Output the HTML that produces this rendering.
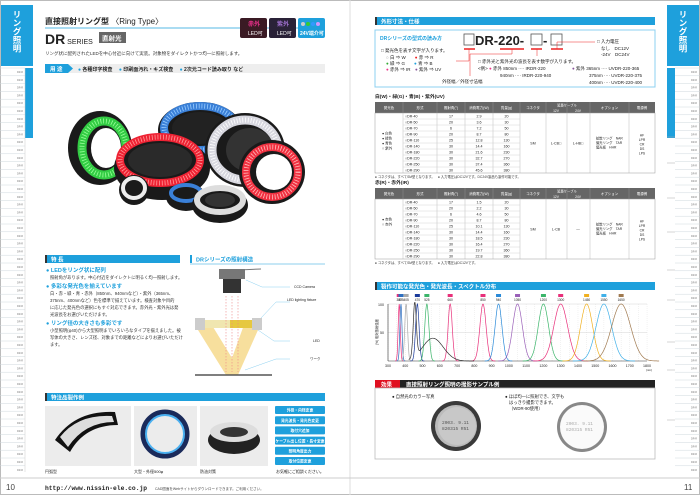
<!DOCTYPE html>
<html><head><meta charset="utf-8">
<style>
html,body{margin:0;padding:0;background:#fff;}
svg{display:block;font-family:"Liberation Sans","Noto Sans CJK JP",sans-serif;}
.vt{writing-mode:vertical-rl;}
</style></head>
<body>
<svg id="s" width="700" height="495" viewBox="0 0 700 495" xmlns="http://www.w3.org/2000/svg">
<rect width="700" height="495" fill="#fff"/>
<rect x="0.5" y="0.5" width="699" height="494" fill="none" stroke="#bbb"/>
<line x1="350" y1="0" x2="350" y2="495" stroke="#ddd"/>
<!-- left tab -->
<rect x="1" y="5" width="32" height="61" fill="#1ea0dc"/>
<text x="17" y="10" font-size="8.5" fill="#fff" font-weight="bold" class="vt">リング照明</text>
<rect x="25" y="68" width="8" height="70" fill="#1ea0dc"/>
<g id="lnav"></g>
<!-- right tab -->
<rect x="667" y="5" width="32" height="61" fill="#1ea0dc"/>
<text x="683" y="10" font-size="8.5" fill="#fff" font-weight="bold" class="vt">リング照明</text>
<rect x="667" y="68" width="8" height="70" fill="#1ea0dc"/>
<g id="rnav"></g>

<!-- left header -->
<text x="45" y="24" font-size="8" font-weight="bold" fill="#222">直接照射リング型 <tspan font-weight="normal">〈Ring Type〉</tspan></text>
<line x1="45" y1="28" x2="325" y2="28" stroke="#1ea0dc" stroke-width="0.8"/>
<text x="45" y="44" font-size="14" font-weight="bold" fill="#222">DR<tspan font-size="7" font-weight="normal"> SERIES</tspan></text>
<rect x="99" y="32" width="27" height="11" fill="#666"/>
<text x="102" y="40.5" font-size="6.5" fill="#fff" font-weight="bold">直射光</text>
<rect x="240" y="18" width="27" height="20" rx="2" fill="#3a1a24"/>
<text x="248" y="26" font-size="6" fill="#e8308a" font-weight="bold">赤外</text>
<text x="248" y="35" font-size="5" fill="#fff">LED可</text>
<rect x="269" y="18" width="27" height="20" rx="2" fill="#2a2238"/>
<text x="277" y="26" font-size="6" fill="#a070d0" font-weight="bold">紫外</text>
<text x="277" y="35" font-size="5" fill="#fff">LED可</text>
<rect x="298" y="18" width="27" height="20" rx="2" fill="#1ea0dc"/>
<text x="300" y="35" font-size="5" fill="#fff" font-weight="bold">24V端介可</text>
<circle cx="303" cy="24" r="2" fill="#ccc"/><circle cx="308" cy="24" r="2" fill="#3c3"/><circle cx="313" cy="24" r="2" fill="#39f"/><circle cx="318" cy="24" r="2" fill="#c9f"/>
<text x="45" y="55" font-size="4.5" fill="#333">リング状に配列されたLEDを中心付近に向けて実装。対象物をダイレクトかつ均一に照射します。</text>
<rect x="45" y="64" width="280" height="9" fill="#eee"/>
<polygon points="45,64 68,64 73,68.5 68,73 45,73" fill="#1ea0dc"/>
<text x="50" y="71" font-size="5.5" fill="#fff" font-weight="bold">用 途</text>
<text x="78" y="71" font-size="5" fill="#222" font-weight="bold"><tspan fill="#1ea0dc">●</tspan> 各種印字検査　 <tspan fill="#1ea0dc">●</tspan> 印刷面汚れ・キズ検査　 <tspan fill="#1ea0dc">●</tspan> 2次元コード読み取り など</text>

<!-- product photo -->
<g>
<ellipse cx="100" cy="148" rx="32" ry="37" fill="#1a1a1a"/>
<ellipse cx="104" cy="148" rx="22" ry="27" fill="none" stroke="#3c4" stroke-width="9"/>
<ellipse cx="104" cy="148" rx="22" ry="27" fill="none" stroke="#9f9" stroke-width="5" stroke-dasharray="0.8 2"/>
<ellipse cx="106" cy="148" rx="15" ry="20" fill="#fff"/>
<ellipse cx="200" cy="130" rx="42" ry="28" fill="#1a1a1a"/>
<ellipse cx="200" cy="128" rx="36" ry="22" fill="none" stroke="#3a80d8" stroke-width="8"/>
<ellipse cx="200" cy="128" rx="36" ry="22" fill="none" stroke="#9cf" stroke-width="5" stroke-dasharray="0.8 2"/>
<ellipse cx="200" cy="128" rx="28" ry="16" fill="#222"/>
<ellipse cx="162" cy="168" rx="48" ry="32" fill="#1a1a1a"/>
<ellipse cx="160" cy="160" rx="40" ry="23" fill="none" stroke="#e23" stroke-width="8"/>
<ellipse cx="160" cy="160" rx="40" ry="23" fill="none" stroke="#f99" stroke-width="5" stroke-dasharray="0.8 2"/>
<ellipse cx="160" cy="160" rx="32" ry="17" fill="#2a2a2a"/>
<ellipse cx="245" cy="150" rx="40" ry="37" fill="#1a1a1a"/>
<ellipse cx="245" cy="150" rx="33" ry="30" fill="none" stroke="#d8d8e0" stroke-width="9"/>
<ellipse cx="245" cy="150" rx="33" ry="30" fill="none" stroke="#fff" stroke-width="5" stroke-dasharray="0.8 2"/>
<ellipse cx="250" cy="150" rx="24" ry="22" fill="#333"/>
<ellipse cx="272" cy="172" rx="33" ry="32" fill="#1a1a1a"/>
<ellipse cx="272" cy="172" rx="26" ry="25" fill="none" stroke="#f03040" stroke-width="8"/>
<ellipse cx="272" cy="172" rx="26" ry="25" fill="none" stroke="#fbb" stroke-width="5" stroke-dasharray="0.8 2"/>
<ellipse cx="274" cy="172" rx="18" ry="18" fill="#fff"/>
<ellipse cx="134" cy="190" rx="15" ry="15" fill="#1a1a1a"/>
<ellipse cx="134" cy="188" rx="11" ry="10" fill="none" stroke="#eee" stroke-width="4"/>
<ellipse cx="186" cy="197" rx="20" ry="14" fill="#1a1a1a"/>
<ellipse cx="186" cy="193" rx="15" ry="8" fill="none" stroke="#3a80d8" stroke-width="4"/>
<ellipse cx="220" cy="205" rx="28" ry="18" fill="#1a1a1a"/>
<ellipse cx="220" cy="200" rx="23" ry="12" fill="none" stroke="#ddd" stroke-width="6"/>
<ellipse cx="220" cy="200" rx="15" ry="7" fill="#333"/>
</g>

<!-- features -->
<rect x="45" y="255" width="135" height="8" fill="#1ea0dc"/>
<rect x="45" y="255" width="2" height="8" fill="#333"/>
<text x="51" y="261.5" font-size="5.5" fill="#fff" font-weight="bold">特 長</text>
<g font-size="4.3" fill="#333">
<text x="46" y="272" font-size="5.5" fill="#1ea0dc" font-weight="bold">● LEDをリング状に配列</text>
<text x="50" y="279">照射角があります。中心付近をダイレクトに明るく均一照射します。</text>
<text x="46" y="288" font-size="5.5" fill="#1ea0dc" font-weight="bold">● 多彩な発光色を揃えています</text>
<text x="50" y="295">白・赤・緑・青・赤外（850nm、940nmなど）・紫外（365nm、</text>
<text x="50" y="302">375nm、400nmなど）色を標準で揃えています。検査対象や目的</text>
<text x="50" y="309">に応じた発光色の選択にもすぐ対応できます。赤外光・紫外光は発</text>
<text x="50" y="316">光波長をお選びいただけます。</text>
<text x="46" y="325" font-size="5.5" fill="#1ea0dc" font-weight="bold">● リング径の大きさも多彩です</text>
<text x="50" y="332">小型照明(φ40)から大型照明までいろいろなタイプを揃えました。被</text>
<text x="50" y="339">写体の大きさ、レンズ径、対象までの距離などによりお選びいただけ</text>
<text x="50" y="346">ます。</text>
</g>
<rect x="190" y="255" width="2" height="8" fill="#1ea0dc"/>
<text x="196" y="261.5" font-size="5.5" fill="#1ea0dc" font-weight="bold">DRシリーズの照射構造</text>
<line x1="190" y1="264" x2="325" y2="264" stroke="#1ea0dc" stroke-width="0.6"/>
<!-- diagram -->
<polygon points="198,330 210,322 232,358 245,322 258,330 238,375 226,375" fill="#f6d98c" opacity="0.85"/>
<rect x="196" y="320" width="66" height="8" fill="#f0e6b0"/>
<rect x="230" y="320" width="26" height="8" fill="#e6c840"/>
<rect x="195" y="318" width="10" height="12" fill="#ccc"/><rect x="252" y="318" width="10" height="12" fill="#ccc"/>
<line x1="195" y1="375" x2="272" y2="375" stroke="#555" stroke-width="1.5"/>
<rect x="219" y="269" width="26" height="10" fill="#777"/>
<line x1="238" y1="270" x2="261" y2="269" stroke="#777"/>
<rect x="223" y="279" width="18" height="14" fill="#333"/>
<g stroke="#e88" stroke-width="0.6" stroke-dasharray="1.5 1.5"><line x1="226" y1="296" x2="226" y2="372"/><line x1="232" y1="296" x2="232" y2="372"/><line x1="238" y1="296" x2="238" y2="372"/></g>
<g stroke="#8cd0f0" stroke-width="0.5" fill="none"><polyline points="246,280 262,287 290,287"/><polyline points="261,318 276,302 290,302"/><polyline points="258,330 274,341 290,341"/><polyline points="245,370 276,359 290,359"/></g>
<g font-size="3.5" fill="#222"><text x="294" y="288">CCD Camera</text><text x="287" y="301">LED lighting fixture</text><text x="313" y="342">LED</text><text x="310" y="360">ワーク</text></g>

<!-- special order -->
<rect x="45" y="393" width="280" height="8" fill="#1ea0dc"/>
<rect x="45" y="393" width="2" height="8" fill="#333"/>
<text x="51" y="399.5" font-size="5.5" fill="#fff" font-weight="bold">特注品製作例</text>
<rect x="45" y="406" width="86" height="60" fill="#ececec"/>
<path d="M55,440 Q75,410 115,412 L118,425 Q85,425 70,452 Z" fill="#111"/>
<path d="M60,437 Q78,414 112,416 L114,422 Q85,422 68,447 Z" fill="#ddd"/>
<rect x="134" y="406" width="63" height="60" fill="#ececec"/>
<circle cx="165" cy="434" r="22" fill="none" stroke="#1a2a5a" stroke-width="5"/>
<circle cx="165" cy="434" r="19" fill="none" stroke="#4ab0f0" stroke-width="2"/>
<rect x="200" y="406" width="68" height="60" fill="#ececec"/>
<ellipse cx="234" cy="440" rx="26" ry="14" fill="#222"/>
<ellipse cx="234" cy="432" rx="24" ry="10" fill="#ddd"/>
<ellipse cx="234" cy="432" rx="14" ry="5" fill="#333"/>
<g font-size="4" fill="#222"><text x="45" y="473">円弧型</text><text x="134" y="473">大型・外径500φ</text><text x="200" y="473">防油対策</text><text x="276" y="473">お気軽にご相談ください。</text></g>
<g id="btns"></g>
<line x1="0" y1="478" x2="700" y2="478" stroke="#ccc"/>
<text x="6" y="490" font-size="8" fill="#444">10</text>
<text x="45" y="490" font-size="6.3" font-family="Liberation Mono" fill="#222" font-weight="bold">http://www.nissin-ele.co.jp</text>
<text x="155" y="490" font-size="3.5" fill="#444">CAD図面をWebサイトからダウンロードできます。ご利用ください。</text>
<text x="684" y="490" font-size="8" fill="#444">11</text>

<!-- right page -->
<rect x="375" y="17" width="280" height="8" fill="#1ea0dc"/>
<rect x="375" y="17" width="2" height="8" fill="#333"/>
<text x="381" y="23.5" font-size="5.5" fill="#fff" font-weight="bold">外形寸法・仕様</text>
<rect x="375" y="30" width="280" height="57" fill="#fff" stroke="#8cd0f0" stroke-width="1"/>
<text x="380" y="40" font-size="5" fill="#1ea0dc" font-weight="bold">DRシリーズの型式の読み方</text>
<rect x="464" y="34" width="10" height="11" fill="none" stroke="#555" stroke-width="0.8"/>
<text x="475" y="45" font-size="13" fill="#222" font-weight="bold">DR-220-</text>
<rect x="531" y="34" width="11" height="11" fill="none" stroke="#555" stroke-width="0.8"/>
<text x="543" y="45" font-size="13" fill="#222" font-weight="bold">-</text>
<rect x="551" y="34" width="11" height="11" fill="none" stroke="#555" stroke-width="0.8"/>
<g stroke="#e22" stroke-width="1.5"><line x1="464" y1="49" x2="475" y2="49"/><line x1="500" y1="49" x2="524" y2="49"/><line x1="531" y1="49" x2="542" y2="49"/><line x1="551" y1="49" x2="563" y2="49"/></g>
<g stroke="#e22" stroke-width="0.5" fill="none"><polyline points="469,49 469,61 456,61"/><polyline points="512,49 512,54 470,54 470,76"/><line x1="537" y1="49" x2="537" y2="56"/><polyline points="557,49 557,42 595,42"/></g>
<g font-size="4.5" fill="#222">
<text x="381" y="52">□ 発光色を表す文字が入ります。</text>
<text x="386" y="59"><tspan fill="#999">○</tspan> 白 ⇒ W　　<tspan fill="#e22">●</tspan> 赤 ⇒ R</text>
<text x="386" y="65"><tspan fill="#3a3">●</tspan> 緑 ⇒ G　　<tspan fill="#1ea0dc">●</tspan> 青 ⇒ B</text>
<text x="386" y="71"><tspan fill="#e38">●</tspan> 赤外 ⇒ IR　<tspan fill="#859">●</tspan> 紫外 ⇒ UV</text>
<text x="442" y="83">外径幅／外径寸法幅</text>
<text x="478" y="63">□ 赤外光と紫外光の波長を表す数字が入ります。</text>
<text x="478" y="70">&lt;例&gt; <tspan fill="#e38">●</tspan> 赤外 850nm ···· IRDR-220</text>
<text x="500" y="77">940nm ···· IRDR-220-940</text>
<text x="572" y="70"><tspan fill="#859">●</tspan> 紫外 365nm ···· UVDR-220-365</text>
<text x="589" y="77">375nm ···· UVDR-220-375</text>
<text x="589" y="84">400nm ···· UVDR-220-400</text>
<text x="597" y="43">□ 入力電圧</text>
<text x="601" y="50">なし　DC12V</text>
<text x="601" y="56">-24V　DC24V</text>
</g>
<g id="tables"></g>

<rect x="375" y="282" width="280" height="8" fill="#1ea0dc"/>
<rect x="375" y="282" width="2" height="8" fill="#333"/>
<text x="381" y="288.5" font-size="5.5" fill="#fff" font-weight="bold">製作可能な発光色・発光波長・スペクトル分布</text>
<g id="chart"></g>

<rect x="375" y="380" width="25" height="8" fill="#e01020"/>
<text x="381" y="386.5" font-size="5.5" fill="#fff" font-weight="bold">効果</text>
<rect x="400" y="380" width="255" height="8" fill="#222"/>
<text x="406" y="386.5" font-size="5.5" fill="#fff" font-weight="bold">直接照射リング照明の撮影サンプル例</text>
<rect x="375" y="388" width="280" height="71" fill="#fff" stroke="#bbb" stroke-width="0.8"/>
<text x="392" y="398" font-size="4.3" fill="#222">● 自然光のカラー写真</text>
<text x="505" y="398" font-size="4.3" fill="#222">● ほぼ均一に照射でき、文字も</text>
<text x="509" y="404" font-size="4.3" fill="#222">はっきり撮影できます。</text>
<text x="509" y="410" font-size="4.3" fill="#222">（WDR-90使用）</text>
<circle cx="456" cy="426" r="25" fill="#3a3a3a"/>
<circle cx="456" cy="426" r="21" fill="#bbb"/>
<circle cx="457" cy="426" r="19" fill="#c8c8c8"/>
<text x="442" y="424" font-size="4.5" font-family="Liberation Mono" fill="#555">2003. 9.11</text>
<text x="442" y="430" font-size="4.5" font-family="Liberation Mono" fill="#555">820315 R51</text>
<circle cx="582" cy="427" r="25" fill="#888"/>
<circle cx="582" cy="427" r="22" fill="#fafafa"/>
<text x="566" y="425" font-size="4.5" font-family="Liberation Mono" fill="#aaa">2003. 9.11</text>
<text x="566" y="431" font-size="4.5" font-family="Liberation Mono" fill="#aaa">820315 R51</text>
</svg>
<script>
var NS="http://www.w3.org/2000/svg";
function el(p,t,a,txt){var e=document.createElementNS(NS,t);for(var k in a)e.setAttribute(k,a[k]);if(txt!=null)e.textContent=txt;p.appendChild(e);return e;}
function nav(g,x0,w,tx){for(var y=68;y<472;y+=7.8){el(g,"line",{x1:x0,y1:y,x2:x0+w,y2:y,stroke:"#cfd8de","stroke-width":0.5});el(g,"text",{x:tx,y:y+5,"font-size":2.4,fill:"#777","text-anchor":"end"},"DR-R");}
 el(g,"line",{x1:x0+w,y1:68,x2:x0+w,y2:472,stroke:"#ccc","stroke-width":0.5});}
nav(document.getElementById("lnav"),0,25,23);
nav(document.getElementById("rnav"),675,25,697);
var rn=document.getElementById("rnav");
[[137,163],[163,198],[198,232],[232,270],[270,300],[300,342],[342,370],[370,420],[420,470]].forEach(function(a){el(rn,"line",{x1:667,y1:a[0],x2:675,y2:a[0],stroke:"#aaa","stroke-width":0.5});});
var b=document.getElementById("btns");
["外径・内径変更","発光波長・発光色変更","取付穴追加","ケーブル出し位置・長寸変更","照明角度出力","取付位置変更"].forEach(function(t,i){var y=406+i*10.2;el(b,"rect",{x:275,y:y,width:50,height:8,fill:"#1ea0dc",rx:1});el(b,"text",{x:300,y:y+5.7,"font-size":3.8,fill:"#fff","text-anchor":"middle","font-weight":"bold"},t);});
var T=document.getElementById("tables");
var cols=[375,403,437,465,493,520,546,567,590,629,655];
function table(top,title,rows,dat){
 el(T,"text",{x:375,y:top-4,"font-size":4.8,fill:"#222","font-weight":"bold"},title);
 el(T,"rect",{x:375,y:top,width:280,height:11,fill:"#666"});
 var hd=["発光色","形式","照射角(°)","消費電力(W)","質量(g)","コネクタ","","","オプション","電源例"];
 for(var i=0;i<10;i++){if(hd[i])el(T,"text",{x:(cols[i]+cols[i+1])/2,y:top+7,"font-size":3.5,fill:"#fff","text-anchor":"middle"},hd[i]);}
 el(T,"text",{x:567,y:top+4.5,"font-size":3.3,fill:"#fff","text-anchor":"middle"},"延長ケーブル");
 el(T,"text",{x:556,y:top+9.8,"font-size":3.3,fill:"#fff","text-anchor":"middle"},"12V");
 el(T,"text",{x:578,y:top+9.8,"font-size":3.3,fill:"#fff","text-anchor":"middle"},"24V");
 for(var i=1;i<10;i++)el(T,"line",{x1:cols[i],y1:top,x2:cols[i],y2:top+11,stroke:"#999","stroke-width":0.4});
 var rh=6,y0=top+11,n=dat.length,H=n*rh;
 el(T,"rect",{x:375,y:y0,width:280,height:H,fill:"#fff",stroke:"#999","stroke-width":0.5});
 for(var i=1;i<10;i++)el(T,"line",{x1:cols[i],y1:y0,x2:cols[i],y2:y0+H,stroke:"#aaa","stroke-width":0.4});
 for(var r=0;r<n;r++){var y=y0+r*rh;if(r)el(T,"line",{x1:403,y1:y,x2:520,y2:y,stroke:"#ccc","stroke-width":0.4});
  el(T,"text",{x:405,y:y+4.5,"font-size":3.6,fill:"#222"},"○DR-"+dat[r][0]);
  for(var c=1;c<4;c++)el(T,"text",{x:(cols[c+1]+cols[c+2])/2,y:y+4.5,"font-size":3.6,fill:"#222","text-anchor":"middle"},dat[r][c]);}
 var my=y0+H/2+1.5;
 el(T,"text",{x:533,y:my,"font-size":3.6,fill:"#222","text-anchor":"middle"},"SM");
 el(T,"text",{x:556,y:my,"font-size":3.6,fill:"#222","text-anchor":"middle"},rows[0]);
 el(T,"text",{x:578,y:my,"font-size":3.6,fill:"#222","text-anchor":"middle"},rows[1]);
 ["拡散リング　NAR","偏光リング　TAR","偏光板　HHR"].forEach(function(t,i){el(T,"text",{x:596,y:my-5+i*4.5,"font-size":3.3,fill:"#222"},t);});
 ["HF","LPR","CR","DS","LPS"].forEach(function(t,i){el(T,"text",{x:642,y:my-8+i*4.5,"font-size":3.3,fill:"#222","text-anchor":"middle"},t);});
 rows[2].forEach(function(t,i){el(T,"text",{x:382,y:my-10+i*5,"font-size":3.5,fill:"#222"},t);});
}
var d1=[["40","17","2.9","20"],["50","20","3.6","30"],["70","6","7.2","50"],["90","20","8.7","80"],["110","25","12.8","130"],["140","30","14.4","160"],["180","30","21.6","230"],["220","30","32.7","270"],["250","30","37.4","360"],["290","30","45.6","380"]];
var d2=[["40","17","1.5","20"],["50","20","2.2","30"],["70","6","4.6","50"],["90","20","8.7","80"],["110","25","10.1","130"],["140","30","14.4","160"],["180","30","18.5","230"],["220","30","16.4","270"],["250","30","19.7","360"],["290","30","22.8","380"]];
table(102,"白(W)・緑(G)・青(B)・紫外(UV)",["L-CB□","L-HB□",["● 白色","● 緑色","● 青色","○ 紫外"]],d1);
el(T,"text",{x:375,y:178,"font-size":3.3,fill:"#333"},"● コネクタは、すべてSM型となります。　● 入力電圧はDC12Vです。DC24V製品も製作可能です。");
table(188,"赤(R)・赤外(IR)",["L-CB","—",["● 赤色","○ 赤外"]],d2);
el(T,"text",{x:375,y:264,"font-size":3.3,fill:"#333"},"● コネクタは、すべてSM型となります。　● 入力電圧はDC12Vです。");
var C=document.getElementById("chart");
function X(nm){return 388+(nm-300)*0.1727;} function Y(v){return 361-v*0.57;}
el(C,"rect",{x:388,y:304,width:259,height:57,fill:"#fff"});
for(var nm=300;nm<=1800;nm+=50)el(C,"line",{x1:X(nm),y1:304,x2:X(nm),y2:361,stroke:"#ddd","stroke-width":0.4,"stroke-dasharray":"1 1"});
el(C,"line",{x1:388,y1:304,x2:647,y2:304,stroke:"#ccc","stroke-width":0.4});
el(C,"line",{x1:388,y1:332.5,x2:647,y2:332.5,stroke:"#ccc","stroke-width":0.4});
el(C,"line",{x1:388,y1:361,x2:647,y2:361,stroke:"#333","stroke-width":0.6});
el(C,"line",{x1:388,y1:304,x2:388,y2:361,stroke:"#333","stroke-width":0.6});
for(var nm=300;nm<=1800;nm+=100)el(C,"text",{x:X(nm),y:367,"font-size":3.6,fill:"#222","text-anchor":"middle"},String(nm));
el(C,"text",{x:646,y:371,"font-size":3,fill:"#222"},"(nm)");
el(C,"text",{x:384,y:306,"font-size":3.6,fill:"#222","text-anchor":"end"},"100");
el(C,"text",{x:384,y:334,"font-size":3.6,fill:"#222","text-anchor":"end"},"50");
el(C,"text",{x:378,y:332,"font-size":3.3,fill:"#222",transform:"rotate(-90 378 332)","text-anchor":"middle"},"(%) 相対放射強度");
var pk=[[365,"#e8307a",6],[375,"#3070c0",6],[405,"#aaa",8],[470,"#1a3a9a",10],[525,"#3bb56a",12],[660,"#e8307a",12],[850,"#e8307a",18],[940,"#2a8ad8",20],[1050,"#9a60b8",28],[1200,"#3bb56a",30],[1300,"#e8307a",40],[1450,"#f0b020",35],[1550,"#40b0e8",45],[1650,"#a07a50",55]];
pk.forEach(function(p){var d="";for(var nm=p[0]-4*p[2];nm<=p[0]+4*p[2];nm+=2){var v=100*Math.exp(-Math.pow((nm-p[0])/p[2],2)/2);d+=(d?"L":"M")+X(nm).toFixed(1)+","+Y(v).toFixed(1);}
 el(C,"path",{d:d,fill:"none",stroke:p[1],"stroke-width":0.7});
 el(C,"text",{x:X(p[0]),y:301,"font-size":3.2,fill:"#222","text-anchor":"middle"},String(p[0]));
 el(C,"rect",{x:X(p[0])-2.5,y:294,width:5,height:3,fill:p[1]});});
var d="";for(var nm=420;nm<=800;nm+=3){var v=95*Math.exp(-Math.pow((nm-455)/9,2)/2)+40*Math.exp(-Math.pow((nm-560)/60,2)/2);d+=(d?"L":"M")+X(nm).toFixed(1)+","+Y(v).toFixed(1);}
el(C,"path",{d:d,fill:"none",stroke:"#333","stroke-width":0.7});
</script>
</body></html>
